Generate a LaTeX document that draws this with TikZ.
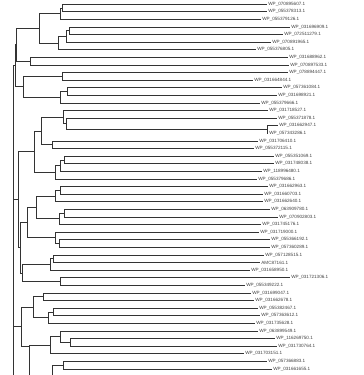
\documentclass[tikz,border=0pt]{standalone}
\usepackage{fontspec}
\setmainfont{Liberation Sans}
\begin{document}
\begin{tikzpicture}[x=1pt,y=-1pt,
  branch/.style={draw=black!80,line width=0.85pt},
  lbl/.style={anchor=west,inner sep=0pt,xshift=1.2pt,text=black!75,font=\fontsize{4.6}{5}\selectfont}]
\useasboundingbox (0,0) rectangle (364,375);
\clip (0,0) rectangle (364,375);
% leaf tips
\coordinate (t1) at (267,4.2);
\coordinate (t2) at (267,11.8);
\coordinate (t3) at (261,19.4);
\coordinate (t4) at (290,27.0);
\coordinate (t5) at (283,34.6);
\coordinate (t6) at (271,42.2);
\coordinate (t7) at (256,49.8);
\coordinate (t8) at (288,57.4);
\coordinate (t9) at (289,65.0);
\coordinate (t10) at (288,72.6);
\coordinate (t11) at (253,80.2);
\coordinate (t12) at (282,87.8);
\coordinate (t13) at (277,95.4);
\coordinate (t14) at (260,103.0);
\coordinate (t15) at (268,110.6);
\coordinate (t16) at (277,118.2);
\coordinate (t17) at (278,125.8);
\coordinate (t18) at (268,133.4);
\coordinate (t19) at (258,141.0);
\coordinate (t20) at (254,148.6);
\coordinate (t21) at (274,156.2);
\coordinate (t22) at (274,163.8);
\coordinate (t23) at (262,171.4);
\coordinate (t24) at (257,179.0);
\coordinate (t25) at (268,186.6);
\coordinate (t26) at (263,194.2);
\coordinate (t27) at (263,201.8);
\coordinate (t28) at (270,209.4);
\coordinate (t29) at (278,217.0);
\coordinate (t30) at (261,224.6);
\coordinate (t31) at (259,232.2);
\coordinate (t32) at (270,239.8);
\coordinate (t33) at (270,247.4);
\coordinate (t34) at (264,255.0);
\coordinate (t35) at (260,262.6);
\coordinate (t36) at (250,270.2);
\coordinate (t37) at (290,277.8);
\coordinate (t38) at (245,285.4);
\coordinate (t39) at (251,293.0);
\coordinate (t40) at (254,300.6);
\coordinate (t41) at (258,308.2);
\coordinate (t42) at (260,315.8);
\coordinate (t43) at (255,323.4);
\coordinate (t44) at (258,331.0);
\coordinate (t45) at (275,338.6);
\coordinate (t46) at (277,346.2);
\coordinate (t47) at (244,353.8);
\coordinate (t48) at (267,361.4);
\coordinate (t49) at (272,369.0);
% internal nodes
\coordinate (n12) at (62,8.0);
\coordinate (n123) at (60,13.7);
\coordinate (n45) at (69,30.8);
\coordinate (n456) at (66,36.5);
\coordinate (n4567) at (58,43.15);
\coordinate (nA) at (39,28.4);
\coordinate (n89) at (30,61.2);
\coordinate (nP) at (16.6,44.8);
\coordinate (n1011) at (62,76.4);
\coordinate (n1213) at (67,91.6);
\coordinate (n1214) at (60,97.3);
\coordinate (nB) at (23,86.85);
\coordinate (nQ) at (15,65.8);
\coordinate (n1718) at (267,129.6);
\coordinate (n1618) at (66,123.9);
\coordinate (n1518) at (63,117.25);
\coordinate (n1920) at (52,144.8);
\coordinate (nR) at (41,131.0);
\coordinate (n2122) at (64,160.0);
\coordinate (n2123) at (60,165.7);
\coordinate (n2124) at (55,172.35);
\coordinate (nS) at (34,151.7);
\coordinate (n2526) at (60,190.4);
\coordinate (n2527) at (55,196.1);
\coordinate (n2829) at (64,213.2);
\coordinate (n2830) at (59,218.9);
\coordinate (n2530) at (36,207.5);
\coordinate (n3233) at (59,243.6);
\coordinate (n3133) at (55,237.9);
\coordinate (nT) at (27,222.7);
\coordinate (n3435) at (53,258.8);
\coordinate (n3436) at (50,264.5);
\coordinate (n3738) at (60,281.6);
\coordinate (nV) at (22,273.05);
\coordinate (nU) at (20,247.9);
\coordinate (nW) at (18,199.8);
\coordinate (n3940) at (43,296.8);
\coordinate (n4142) at (53,312.0);
\coordinate (n4143) at (48,317.7);
\coordinate (n3943) at (33,307.25);
\coordinate (n4546) at (70,342.4);
\coordinate (n4446) at (60,336.7);
\coordinate (n4447) at (50,345.25);
\coordinate (nY) at (29.3,346);
\coordinate (nYlow) at (29.3,400);
\coordinate (nX) at (21.7,326.6);
\coordinate (n4849) at (63,365.2);
\coordinate (nZ) at (52,400);
\coordinate (root) at (13.3,420);
% branches
\draw[branch] (n12) |- (t1) (n12) |- (t2);
\draw[branch] (n123) |- (n12) (n123) |- (t3);
\draw[branch] (n45) |- (t4) (n45) |- (t5);
\draw[branch] (n456) |- (n45) (n456) |- (t6);
\draw[branch] (n4567) |- (n456) (n4567) |- (t7);
\draw[branch] (nA) |- (n123) (nA) |- (n4567);
\draw[branch] (n89) |- (t8) (n89) |- (t9);
\draw[branch] (nP) |- (nA) (nP) |- (n89);
\draw[branch] (n1011) |- (t10) (n1011) |- (t11);
\draw[branch] (n1213) |- (t12) (n1213) |- (t13);
\draw[branch] (n1214) |- (n1213) (n1214) |- (t14);
\draw[branch] (nB) |- (n1011) (nB) |- (n1214);
\draw[branch] (nQ) |- (nP) (nQ) |- (nB);
\draw[branch] (n1718) |- (t17) (n1718) |- (t18);
\draw[branch] (n1618) |- (t16) (n1618) |- (n1718);
\draw[branch] (n1518) |- (t15) (n1518) |- (n1618);
\draw[branch] (n1920) |- (t19) (n1920) |- (t20);
\draw[branch] (nR) |- (n1518) (nR) |- (n1920);
\draw[branch] (n2122) |- (t21) (n2122) |- (t22);
\draw[branch] (n2123) |- (n2122) (n2123) |- (t23);
\draw[branch] (n2124) |- (n2123) (n2124) |- (t24);
\draw[branch] (nS) |- (nR) (nS) |- (n2124);
\draw[branch] (n2526) |- (t25) (n2526) |- (t26);
\draw[branch] (n2527) |- (n2526) (n2527) |- (t27);
\draw[branch] (n2829) |- (t28) (n2829) |- (t29);
\draw[branch] (n2830) |- (n2829) (n2830) |- (t30);
\draw[branch] (n2530) |- (n2527) (n2530) |- (n2830);
\draw[branch] (n3233) |- (t32) (n3233) |- (t33);
\draw[branch] (n3133) |- (t31) (n3133) |- (n3233);
\draw[branch] (nT) |- (n2530) (nT) |- (n3133);
\draw[branch] (n3435) |- (t34) (n3435) |- (t35);
\draw[branch] (n3436) |- (n3435) (n3436) |- (t36);
\draw[branch] (n3738) |- (t37) (n3738) |- (t38);
\draw[branch] (nV) |- (n3436) (nV) |- (n3738);
\draw[branch] (nU) |- (nT) (nU) |- (nV);
\draw[branch] (nW) |- (nS) (nW) |- (nU);
\draw[branch] (n3940) |- (t39) (n3940) |- (t40);
\draw[branch] (n4142) |- (t41) (n4142) |- (t42);
\draw[branch] (n4143) |- (n4142) (n4143) |- (t43);
\draw[branch] (n3943) |- (n3940) (n3943) |- (n4143);
\draw[branch] (n4546) |- (t45) (n4546) |- (t46);
\draw[branch] (n4446) |- (t44) (n4446) |- (n4546);
\draw[branch] (n4447) |- (n4446) (n4447) |- (t47);
\draw[branch] (nY) |- (n4447) (nY) -- (nYlow);
\draw[branch] (nX) |- (n3943) (nX) |- (nY);
\draw[branch] (n4849) |- (t48) (n4849) |- (t49);
\draw[branch] (nZ) |- (n4849);
\draw[branch] (root) |- (nQ) (root) |- (nW) (root) |- (nX);
% labels
\node[lbl] (L1) at (t1) {WP\_070895607.1};
\node[lbl] (L2) at (t2) {WP\_055378313.1};
\node[lbl] (L3) at (t3) {WP\_055379126.1};
\node[lbl] (L4) at (t4) {WP\_031696909.1};
\node[lbl] (L5) at (t5) {WP\_072511279.1};
\node[lbl] (L6) at (t6) {WP\_070891965.1};
\node[lbl] (L7) at (t7) {WP\_055376805.1};
\node[lbl] (L8) at (t8) {WP\_031688962.1};
\node[lbl] (L9) at (t9) {WP\_070897533.1};
\node[lbl] (L10) at (t10) {WP\_078894447.1};
\node[lbl] (L11) at (t11) {WP\_031664844.1};
\node[lbl] (L12) at (t12) {WP\_057361084.1};
\node[lbl] (L13) at (t13) {WP\_031698921.1};
\node[lbl] (L14) at (t14) {WP\_055379666.1};
\node[lbl] (L15) at (t15) {WP\_031718527.1};
\node[lbl] (L16) at (t16) {WP\_055371878.1};
\node[lbl] (L17) at (t17) {WP\_031662947.1};
\node[lbl] (L18) at (t18) {WP\_057343286.1};
\node[lbl] (L19) at (t19) {WP\_031706410.1};
\node[lbl] (L20) at (t20) {WP\_055372115.1};
\node[lbl] (L21) at (t21) {WP\_055351069.1};
\node[lbl] (L22) at (t22) {WP\_031748038.1};
\node[lbl] (L23) at (t23) {WP\_118996480.1};
\node[lbl] (L24) at (t24) {WP\_055379686.1};
\node[lbl] (L25) at (t25) {WP\_031662963.1};
\node[lbl] (L26) at (t26) {WP\_031660703.1};
\node[lbl] (L27) at (t27) {WP\_031662640.1};
\node[lbl] (L28) at (t28) {WP\_063909780.1};
\node[lbl] (L29) at (t29) {WP\_070902803.1};
\node[lbl] (L30) at (t30) {WP\_031745176.1};
\node[lbl] (L31) at (t31) {WP\_031719000.1};
\node[lbl] (L32) at (t32) {WP\_055366192.1};
\node[lbl] (L33) at (t33) {WP\_057360289.1};
\node[lbl] (L34) at (t34) {WP\_057128515.1};
\node[lbl] (L35) at (t35) {AMC87161.1};
\node[lbl] (L36) at (t36) {WP\_031658950.1};
\node[lbl] (L37) at (t37) {WP\_031721306.1};
\node[lbl] (L38) at (t38) {WP\_055349222.1};
\node[lbl] (L39) at (t39) {WP\_031699047.1};
\node[lbl] (L40) at (t40) {WP\_031662678.1};
\node[lbl] (L41) at (t41) {WP\_055382467.1};
\node[lbl] (L42) at (t42) {WP\_057363612.1};
\node[lbl] (L43) at (t43) {WP\_031735628.1};
\node[lbl] (L44) at (t44) {WP\_063899549.1};
\node[lbl] (L45) at (t45) {WP\_116269750.1};
\node[lbl] (L46) at (t46) {WP\_031730764.1};
\node[lbl] (L47) at (t47) {WP\_031703151.1};
\node[lbl] (L48) at (t48) {WP\_057366883.1};
\node[lbl] (L49) at (t49) {WP\_031661655.1};
\end{tikzpicture}
\end{document}
